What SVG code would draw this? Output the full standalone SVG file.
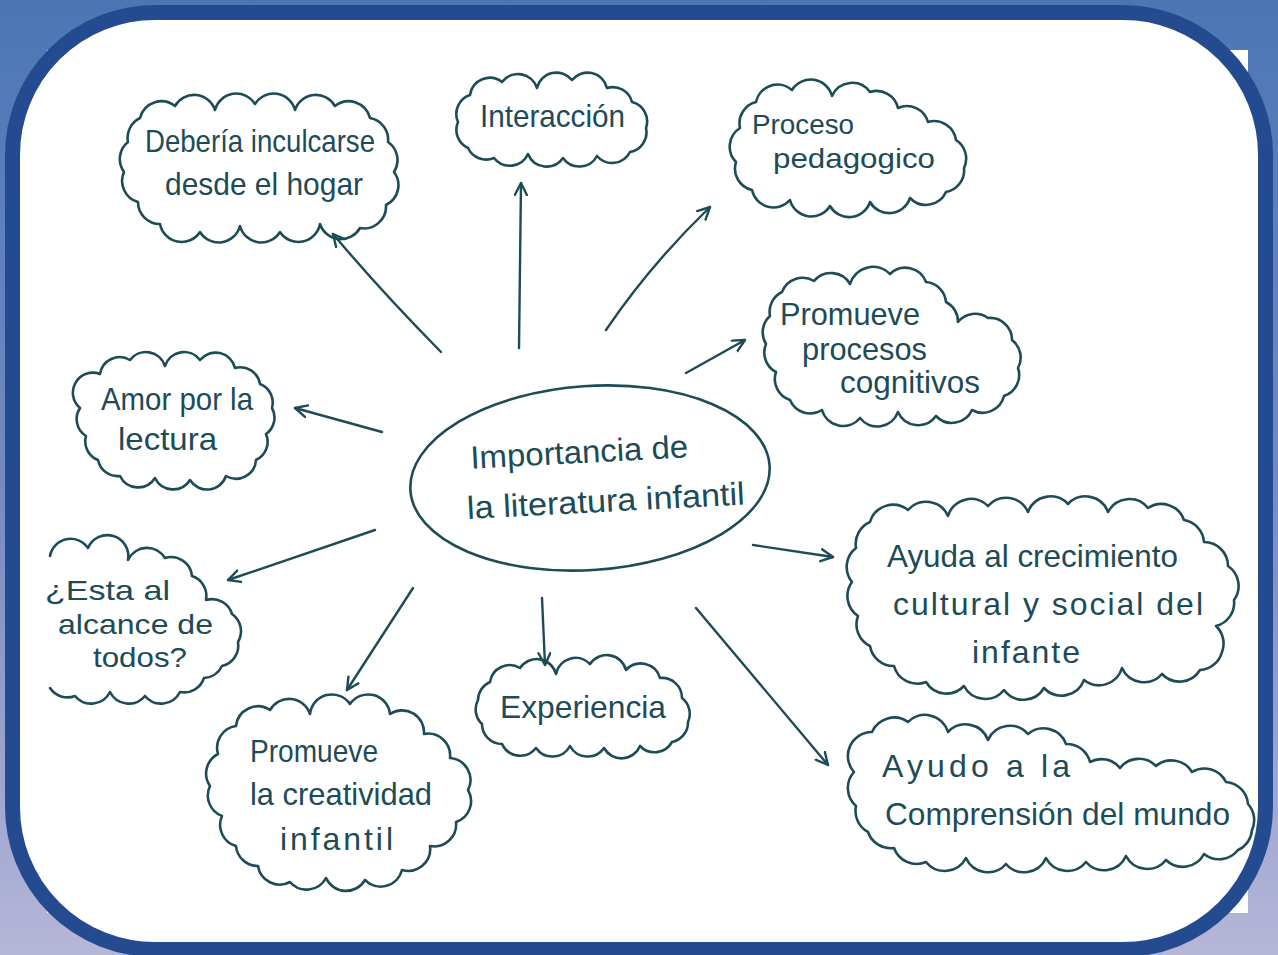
<svg xmlns="http://www.w3.org/2000/svg" width="1278" height="955" viewBox="0 0 1278 955">
<defs>
<linearGradient id="bg" x1="0" y1="0" x2="0" y2="1">
<stop offset="0" stop-color="#4a77b4"/>
<stop offset="0.5" stop-color="#7489c2"/>
<stop offset="1" stop-color="#b6b6d8"/>
</linearGradient>
<marker id="arr" markerUnits="userSpaceOnUse" markerWidth="16" markerHeight="16" refX="13" refY="7" orient="auto">
<path d="M1,1 L13,7 L1,13" fill="none" stroke="#1d4b56" stroke-width="2.4" stroke-linecap="round" stroke-linejoin="round"/>
</marker>
<style>
.cloud{fill:none;stroke:#1d4b56;stroke-width:2.6;stroke-linejoin:round;stroke-linecap:round}
.lbl{font-family:"Liberation Sans Narrow","Liberation Sans",Arial,sans-serif;font-size:32px;fill:#1d4b56}
.sm{font-size:28px}
.conn path{fill:none;stroke:#1d4b56;stroke-width:2.4;stroke-linecap:round;marker-end:url(#arr)}
</style>
</defs>
<rect x="0" y="0" width="1278" height="955" fill="url(#bg)"/>
<rect x="47" y="50" width="1201" height="863" fill="#ffffff"/>
<rect x="12.5" y="12.5" width="1253" height="937" rx="142.5" ry="142.5" fill="#ffffff" stroke="#244b8f" stroke-width="15"/>

<g class="conn" id="connectors">
<path d="M441,352 Q380,290 333,234"/>
<path d="M519,348 L521,183"/>
<path d="M606,330 Q650,265 710,207"/>
<path d="M686,373 L745,340"/>
<path d="M382,432 L295,408"/>
<path d="M375,530 L228,580"/>
<path d="M413,588 L347,690"/>
<path d="M542,598 L545,665"/>
<path d="M753,545 L833,557"/>
<path d="M696,608 L828,765"/>
</g>

<g id="center">
<ellipse cx="590" cy="478" rx="180" ry="92" transform="rotate(-4 590 478)" fill="none" stroke="#1d4b56" stroke-width="2.6"/>
<g transform="rotate(-3 600 485)">
<text class="lbl" x="472" y="462" textLength="218" lengthAdjust="spacingAndGlyphs">Importancia de</text>
<text class="lbl" x="466" y="512" textLength="278" lengthAdjust="spacingAndGlyphs">la literatura infantil</text>
</g>
</g>

<g id="n-deberia">
<path class="cloud" d="M140,118 A22,22 0 0 1 175,106 A22,22 0 0 1 215,110 A22,22 0 0 1 255,104 A22,22 0 0 1 295,110 A22,22 0 0 1 335,106 A22,22 0 0 1 370,118 A22,22 0 0 1 388,142 A22,22 0 0 1 394,172 A22,22 0 0 1 386,205 A22,22 0 0 1 360,228 A22,22 0 0 1 320,224 A22,22 0 0 1 280,232 A22,22 0 0 1 240,226 A22,22 0 0 1 200,232 A22,22 0 0 1 160,224 A22,22 0 0 1 138,202 A22,22 0 0 1 124,172 A22,22 0 0 1 128,142 A22,22 0 0 1 140,118 Z"/>
<text class="lbl" x="145" y="152" textLength="230" lengthAdjust="spacingAndGlyphs">Debería inculcarse</text>
<text class="lbl" x="165" y="195" textLength="198" lengthAdjust="spacingAndGlyphs">desde el hogar</text>
</g>

<g id="n-interaccion">
<path class="cloud" d="M470,95 A20,20 0 0 1 502,82 A20,20 0 0 1 537,88 A20,20 0 0 1 572,80 A20,20 0 0 1 607,88 A20,20 0 0 1 632,102 A20,20 0 0 1 646,128 A20,20 0 0 1 630,152 A20,20 0 0 1 597,156 A20,20 0 0 1 563,158 A20,20 0 0 1 528,154 A20,20 0 0 1 494,158 A20,20 0 0 1 468,148 A20,20 0 0 1 458,122 A20,20 0 0 1 470,95 Z"/>
<text class="lbl" x="480" y="127" textLength="145" lengthAdjust="spacingAndGlyphs">Interacción</text>
</g>

<g id="n-proceso">
<path class="cloud" d="M756,102 A22,22 0 0 1 792,90 A22,22 0 0 1 832,96 A22,22 0 0 1 870,92 A22,22 0 0 1 898,108 A22,22 0 0 1 928,122 A22,22 0 0 1 956,140 A22,22 0 0 1 964,168 A22,22 0 0 1 946,192 A22,22 0 0 1 910,198 A22,22 0 0 1 870,202 A22,22 0 0 1 830,206 A22,22 0 0 1 790,200 A22,22 0 0 1 752,190 A22,22 0 0 1 736,162 A22,22 0 0 1 740,128 A22,22 0 0 1 756,102 Z"/>
<text class="lbl sm" x="752" y="134" textLength="102" lengthAdjust="spacingAndGlyphs">Proceso</text>
<text class="lbl sm" x="773" y="168" textLength="162" lengthAdjust="spacingAndGlyphs">pedagogico</text>
</g>

<g id="n-procesos">
<path class="cloud" d="M782,292 A22,22 0 0 1 814,281 A22,22 0 0 1 850,284 A24,24 0 0 1 890,274 A22,22 0 0 1 926,282 A22,22 0 0 1 946,302 A22,22 0 0 1 958,322 A22,22 0 0 1 988,318 A22,22 0 0 1 1012,340 A22,22 0 0 1 1018,368 A22,22 0 0 1 1004,396 A22,22 0 0 1 972,410 A22,22 0 0 1 936,416 A22,22 0 0 1 898,412 A22,22 0 0 1 860,418 A22,22 0 0 1 822,410 A22,22 0 0 1 790,400 A22,22 0 0 1 776,372 A22,22 0 0 1 766,344 A22,22 0 0 1 770,316 A22,22 0 0 1 782,292 Z"/>
<text class="lbl" x="780" y="325" textLength="140" lengthAdjust="spacingAndGlyphs">Promueve</text>
<text class="lbl" x="802" y="360" textLength="125" lengthAdjust="spacingAndGlyphs">procesos</text>
<text class="lbl" x="840" y="393" textLength="140" lengthAdjust="spacingAndGlyphs">cognitivos</text>
</g>

<g id="n-amor">
<path class="cloud" d="M100,374 A20,20 0 0 1 130,360 A20,20 0 0 1 165,366 A20,20 0 0 1 200,360 A20,20 0 0 1 235,368 A20,20 0 0 1 260,384 A20,20 0 0 1 272,408 A20,20 0 0 1 266,434 A20,20 0 0 1 256,460 A20,20 0 0 1 226,476 A20,20 0 0 1 190,480 A20,20 0 0 1 155,478 A20,20 0 0 1 120,476 A20,20 0 0 1 98,460 A20,20 0 0 1 86,436 A20,20 0 0 1 80,408 A20,20 0 0 1 100,374 Z"/>
<text class="lbl" x="101" y="410" textLength="152" lengthAdjust="spacingAndGlyphs">Amor por la</text>
<text class="lbl" x="118" y="450" textLength="99" lengthAdjust="spacingAndGlyphs">lectura</text>
</g>

<g id="n-alcance">
<path class="cloud" d="M50,556 A21,21 0 0 1 88,548 A21,21 0 0 1 128,560 A21,21 0 0 1 165,558 A21,21 0 0 1 192,576 A21,21 0 0 1 206,600 A21,21 0 0 1 232,614 A21,21 0 0 1 238,642 A21,21 0 0 1 222,666 A21,21 0 0 1 204,678 A21,21 0 0 1 180,692 A21,21 0 0 1 145,696 A21,21 0 0 1 110,692 A21,21 0 0 1 75,696 A21,21 0 0 1 50,688"/>
<text class="lbl sm" x="45" y="600" textLength="125" lengthAdjust="spacingAndGlyphs">¿Esta al</text>
<text class="lbl sm" x="58" y="634" textLength="155" lengthAdjust="spacingAndGlyphs">alcance de</text>
<text class="lbl sm" x="93" y="667" textLength="94" lengthAdjust="spacingAndGlyphs">todos?</text>
</g>

<g id="n-creatividad">
<path class="cloud" d="M236,726 A22,22 0 0 1 270,710 A22,22 0 0 1 310,714 A22,22 0 0 1 350,704 A22,22 0 0 1 390,714 A22,22 0 0 1 424,734 A22,22 0 0 1 450,758 A22,22 0 0 1 468,790 A22,22 0 0 1 456,822 A22,22 0 0 1 430,846 A22,22 0 0 1 402,870 A22,22 0 0 1 365,880 A22,22 0 0 1 326,878 A22,22 0 0 1 290,882 A22,22 0 0 1 258,866 A22,22 0 0 1 236,846 A22,22 0 0 1 222,816 A22,22 0 0 1 210,786 A22,22 0 0 1 218,754 A22,22 0 0 1 236,726 Z"/>
<text class="lbl" x="250" y="762" textLength="128" lengthAdjust="spacingAndGlyphs">Promueve</text>
<text class="lbl" x="250" y="805" textLength="182" lengthAdjust="spacingAndGlyphs">la creatividad</text>
<text class="lbl" x="280" y="850" textLength="113" lengthAdjust="spacing">infantil</text>
</g>

<g id="n-experiencia">
<path class="cloud" d="M490,682 A20,20 0 0 1 520,668 A20,20 0 0 1 556,674 A20,20 0 0 1 590,664 A20,20 0 0 1 626,670 A20,20 0 0 1 660,678 A20,20 0 0 1 682,698 A20,20 0 0 1 688,722 A20,20 0 0 1 672,742 A20,20 0 0 1 640,746 A20,20 0 0 1 604,748 A20,20 0 0 1 570,746 A20,20 0 0 1 536,748 A20,20 0 0 1 502,744 A20,20 0 0 1 482,724 A20,20 0 0 1 478,700 A20,20 0 0 1 490,682 Z"/>
<text class="lbl" x="500" y="718" textLength="166" lengthAdjust="spacingAndGlyphs">Experiencia</text>
</g>

<g id="n-crecimiento">
<path class="cloud" d="M870,522 A24,24 0 0 1 908,510 A24,24 0 0 1 948,516 A24,24 0 0 1 988,506 A24,24 0 0 1 1028,512 A24,24 0 0 1 1068,504 A24,24 0 0 1 1108,512 A24,24 0 0 1 1148,508 A24,24 0 0 1 1184,520 A24,24 0 0 1 1204,542 A24,24 0 0 1 1228,566 A24,24 0 0 1 1234,600 A24,24 0 0 1 1216,626 A24,24 0 0 1 1222,652 A24,24 0 0 1 1200,670 A24,24 0 0 1 1162,674 A24,24 0 0 1 1122,668 A24,24 0 0 1 1084,680 A24,24 0 0 1 1044,688 A24,24 0 0 1 1004,690 A24,24 0 0 1 964,686 A24,24 0 0 1 926,682 A24,24 0 0 1 894,666 A24,24 0 0 1 870,646 A24,24 0 0 1 858,616 A24,24 0 0 1 852,582 A24,24 0 0 1 856,548 A24,24 0 0 1 870,522 Z"/>
<text class="lbl" x="887" y="567" textLength="291" lengthAdjust="spacingAndGlyphs">Ayuda al crecimiento</text>
<text class="lbl" x="893" y="615" textLength="310" lengthAdjust="spacing">cultural y social del</text>
<text class="lbl" x="972" y="663" textLength="108" lengthAdjust="spacing">infante</text>
</g>

<g id="n-mundo">
<path class="cloud" d="M872,732 A24,24 0 0 1 908,722 A24,24 0 0 1 948,732 A24,24 0 0 1 988,740 A24,24 0 0 1 1028,734 A24,24 0 0 1 1066,744 A24,24 0 0 1 1090,762 A24,24 0 0 1 1120,768 A24,24 0 0 1 1156,766 A24,24 0 0 1 1192,772 A24,24 0 0 1 1226,782 A24,24 0 0 1 1248,804 A24,24 0 0 1 1252,830 A24,24 0 0 1 1238,850 A24,24 0 0 1 1204,854 A24,24 0 0 1 1166,860 A24,24 0 0 1 1126,856 A24,24 0 0 1 1086,862 A24,24 0 0 1 1046,858 A24,24 0 0 1 1006,864 A24,24 0 0 1 966,858 A24,24 0 0 1 926,862 A24,24 0 0 1 894,848 A24,24 0 0 1 868,832 A24,24 0 0 1 856,806 A24,24 0 0 1 854,772 A24,24 0 0 1 872,732 Z"/>
<text class="lbl" x="882" y="777" textLength="188" lengthAdjust="spacing">Ayudo a la</text>
<text class="lbl" x="885" y="825" textLength="345" lengthAdjust="spacingAndGlyphs">Comprensión del mundo</text>
</g>
</svg>
